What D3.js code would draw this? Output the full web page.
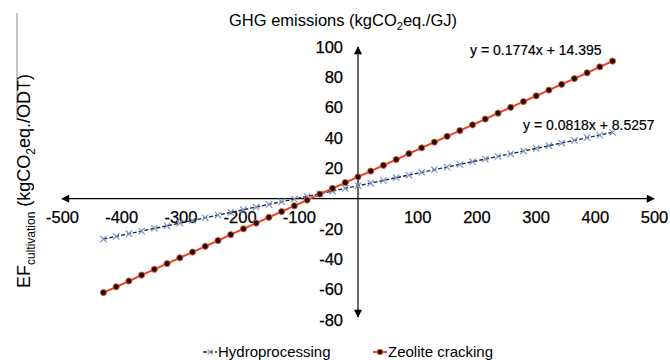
<!DOCTYPE html>
<html>
<head>
<meta charset="utf-8">
<script src="https://cdn.jsdelivr.net/npm/d3@7"></script>
<style>
  body { margin: 0; background: #fff; }
  svg { display: block; font-family: "Liberation Sans", Arial, sans-serif; }
</style>
</head>
<body>
<div id="chart"></div>
<script>
// values
var xValues = [-430, -408.5, -387, -365.5, -344, -322.5, -301, -279.5, -258, -236.5,
  -215, -193.5, -172, -150.5, -129, -107.5, -86, -64.5, -43, -21.5, 0,
  21.5, 43, 64.5, 86, 107.5, 129, 150.5, 172, 193.5, 215, 236.5, 258,
  279.5, 301, 322.5, 344, 365.5, 387, 408.5, 430];
var hydroValues = [-26.6, -24.9, -23.1, -21.4, -19.6, -17.9, -16.1, -14.3, -12.6, -10.8,
  -9.1, -7.3, -5.5, -3.8, -2.0, -0.3, 1.5, 3.2, 5.0, 6.8, 8.5,
  10.3, 12.0, 13.8, 15.6, 17.3, 19.1, 20.8, 22.6, 24.4, 26.1, 27.9, 29.6,
  31.4, 33.1, 34.9, 36.7, 38.4, 40.2, 41.9, 43.7];
var zeoliteValues = [-61.9, -58.1, -54.3, -50.4, -46.6, -42.8, -39.0, -35.2, -31.4, -27.6,
  -23.7, -19.9, -16.1, -12.3, -8.5, -4.7, -0.9, 3.0, 6.8, 10.6, 14.4,
  18.2, 22.0, 25.8, 29.7, 33.5, 37.3, 41.1, 44.9, 48.7, 52.5, 56.4, 60.2,
  64.0, 67.8, 71.6, 75.4, 79.2, 83.0, 86.9, 90.7];
var xTicks = [-500, -400, -300, -200, -100, 100, 200, 300, 400, 500];
var yTicks = [100, 80, 60, 40, 20, -20, -40, -60, -80];
var seriesNames = ["Hydroprocessing", "Zeolite cracking"];
var equations = ["y = 0.0818x + 8.5257", "y = 0.1774x + 14.395"];

var width = 670, height = 360;

var svg = d3.select("#chart").append("svg")
  .attr("width", width)
  .attr("height", height);

var x = d3.scaleLinear().domain([-500, 500]).range([62, 654]);
var y = d3.scaleLinear().domain([-80, 100]).range([320, 47]);

// plain hyphen like the original, not the unicode minus
var plain = function (d) { return String(d); };

var defs = svg.append("defs");
defs.append("marker")
  .attr("id", "arrow")
  .attr("viewBox", "0 0 10 10")
  .attr("refX", 9).attr("refY", 5)
  .attr("markerWidth", 9).attr("markerHeight", 8)
  .attr("markerUnits", "userSpaceOnUse")
  .attr("orient", "auto-start-reverse")
  .append("path")
  .attr("d", "M0,0L10,5L0,10Z")
  .attr("fill", "#000");

// stray grey rule at the left edge
svg.append("line")
  .attr("x1", 17).attr("x2", 17)
  .attr("y1", 13).attr("y2", 120)
  .attr("stroke", "#8a8a8a")
  .attr("stroke-width", 1);

// axes
var xAxis = svg.append("g")
  .attr("transform", "translate(0," + y(0) + ")")
  .call(d3.axisBottom(x).tickValues(xTicks).tickSize(0).tickPadding(13).tickFormat(plain));
xAxis.select(".domain").remove();
xAxis.selectAll("text").style("font-size", "16.5px").attr("fill", "#000")
  .attr("stroke", "#000").attr("stroke-width", 0.25);

var yAxis = svg.append("g")
  .attr("transform", "translate(" + x(0) + ",0)")
  .call(d3.axisLeft(y).tickValues(yTicks).tickSize(0).tickPadding(15).tickFormat(plain));
yAxis.select(".domain").remove();
yAxis.selectAll("text").style("font-size", "16.5px").attr("fill", "#000")
  .attr("stroke", "#000").attr("stroke-width", 0.25);

svg.append("line")
  .attr("x1", x(-500)).attr("x2", x(500))
  .attr("y1", y(0)).attr("y2", y(0))
  .attr("stroke", "#000").attr("stroke-width", 1.2)
  .attr("marker-start", "url(#arrow)")
  .attr("marker-end", "url(#arrow)");

svg.append("line")
  .attr("x1", x(0)).attr("x2", x(0))
  .attr("y1", y(-78)).attr("y2", y(100))
  .attr("stroke", "#000").attr("stroke-width", 1.2)
  .attr("marker-start", "url(#arrow)")
  .attr("marker-end", "url(#arrow)");

// series
var hydro = xValues.map(function (d, i) { return {x: d, y: hydroValues[i]}; });
var zeolite = xValues.map(function (d, i) { return {x: d, y: zeoliteValues[i]}; });

var line = d3.line()
  .x(function (d) { return x(d.x); })
  .y(function (d) { return y(d.y); });

function cross(g, cx, cy, r) {
  g.append("path")
    .attr("d", "M" + (cx - r) + "," + (cy - r) + "L" + (cx + r) + "," + (cy + r) +
               "M" + (cx - r) + "," + (cy + r) + "L" + (cx + r) + "," + (cy - r))
    .attr("stroke", "#7696c6")
    .attr("stroke-width", 1.2)
    .attr("fill", "none");
}

svg.append("path")
  .datum(hydro)
  .attr("fill", "none")
  .attr("stroke", "#1c2c4a")
  .attr("stroke-width", 1.4)
  .attr("stroke-dasharray", "4,2")
  .attr("d", line);

var hg = svg.append("g");
hydro.forEach(function (d) { cross(hg, x(d.x), y(d.y), 3.2); });

svg.append("path")
  .datum(zeolite)
  .attr("fill", "none")
  .attr("stroke", "#f23a1c")
  .attr("stroke-width", 1.9)
  .attr("d", line);

svg.selectAll(".zpt")
  .data(zeolite)
  .enter().append("circle")
  .attr("class", "zpt")
  .attr("cx", function (d) { return x(d.x); })
  .attr("cy", function (d) { return y(d.y); })
  .attr("r", 3.1)
  .attr("fill", "#1a1010")
  .attr("stroke", "#f05a30")
  .attr("stroke-width", 0.9);

// trendline equations
svg.append("text")
  .attr("x", 470).attr("y", 55)
  .style("font-size", "14px")
  .attr("stroke", "#000").attr("stroke-width", 0.2)
  .text(equations[1]);

svg.append("text")
  .attr("x", 523).attr("y", 130)
  .style("font-size", "14px")
  .attr("stroke", "#000").attr("stroke-width", 0.2)
  .text(equations[0]);

// title
var title = svg.append("text")
  .attr("x", 343).attr("y", 26)
  .attr("text-anchor", "middle")
  .style("font-size", "16.5px");
title.append("tspan").text("GHG emissions (kgCO");
title.append("tspan").attr("dy", 4).style("font-size", "11px").text("2");
title.append("tspan").attr("dy", -4).text("eq./GJ)");

// y label
var ylab = svg.append("text")
  .attr("transform", "translate(30,181) rotate(-90)")
  .attr("text-anchor", "middle")
  .style("font-size", "18px");
ylab.append("tspan").text("EF");
ylab.append("tspan").attr("dy", 5).style("font-size", "12px").text("cultivation");
ylab.append("tspan").attr("dy", -5).text(" (kgCO");
ylab.append("tspan").attr("dy", 5).style("font-size", "12px").text("2");
ylab.append("tspan").attr("dy", -5).text("eq./ODT)");

// legend
var legend = svg.append("g");
var lx = [203, 373];
legend.append("line")
  .attr("x1", lx[0]).attr("x2", lx[0] + 14)
  .attr("y1", 352).attr("y2", 352)
  .attr("stroke", "#1c2c4a").attr("stroke-width", 1.4)
  .attr("stroke-dasharray", "4,2");
cross(legend, lx[0] + 7, 352, 2.5);
legend.append("line")
  .attr("x1", lx[1]).attr("x2", lx[1] + 14)
  .attr("y1", 352).attr("y2", 352)
  .attr("stroke", "#f23a1c").attr("stroke-width", 1.9);
legend.append("circle")
  .attr("cx", lx[1] + 7).attr("cy", 352).attr("r", 2.8)
  .attr("fill", "#1a1010").attr("stroke", "#f05a30").attr("stroke-width", 0.9);

legend.selectAll(".ltxt")
  .data(seriesNames)
  .enter().append("text")
  .attr("class", "ltxt")
  .attr("x", function (d, i) { return lx[i] + 15; })
  .attr("y", 357)
  .style("font-size", "15px")
  .text(function (d) { return d; });
</script>
</body>
</html>
